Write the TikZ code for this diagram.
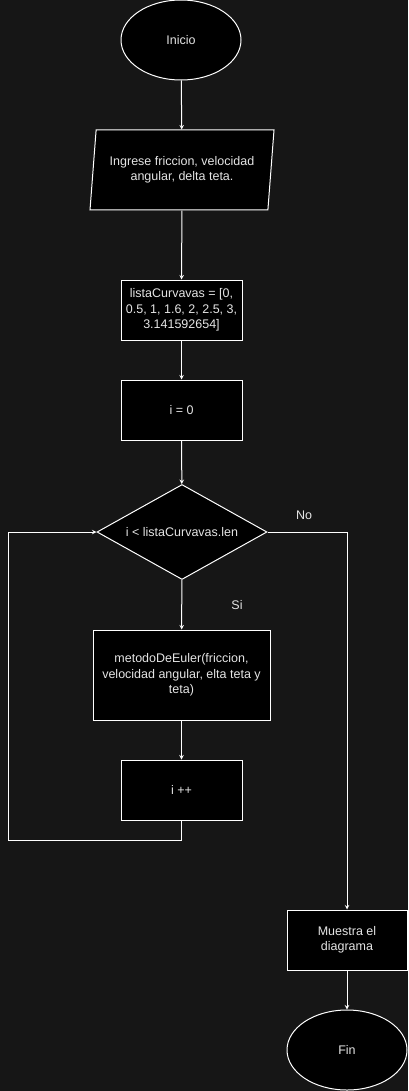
\documentclass[tikz,border=0pt]{standalone}
\usepackage{fontspec}
\setmainfont{Liberation Sans}
\usetikzlibrary{shapes.geometric}
\definecolor{canvas}{HTML}{161616}
\definecolor{inktext}{HTML}{E4E4E4}
\begin{document}
\begin{tikzpicture}[
    x=1pt, y=-1pt,
    >=stealth,
    line width=1pt,
    every node/.style={draw=white, fill=black, text=inktext, inner sep=0pt,
      align=center, font=\fontsize{12.5}{15.5}\selectfont},
    terminal/.style={ellipse, minimum width=120pt, minimum height=80pt},
    io/.style={trapezium, trapezium left angle=77.3, trapezium right angle=102.7,
      trapezium stretches body, minimum width=184pt, minimum height=80pt},
    process/.style={rectangle, minimum width=121pt, minimum height=60pt},
    decision/.style={diamond, aspect=1.8, minimum width=170pt, minimum height=95pt},
    tag/.style={draw=none, fill=none}
]
  \fill[canvas] (0,0) rectangle (408,1091);
  \useasboundingbox (0,0) rectangle (408,1091);

  % nodes
  \node[terminal] (ini) at (181,40) {Inicio};
  \node[io] (inp) at (182,170) {Ingrese friccion, velocidad\\angular, delta teta.};
  \node[process] (lst) at (181.5,310) {listaCurvavas = [0,\\0.5, 1, 1.6, 2, 2.5, 3,\\3.141592654]};
  \node[process] (i0) at (181.5,410) {i = 0};
  \node[decision] (cond) at (182,532) {i {\textless} listaCurvavas.len};
  \node[process, minimum width=177pt, minimum height=90pt] (met) at (181.5,675)
    {metodoDeEuler(friccion,\\velocidad angular, elta teta y\\teta)};
  \node[process] (inc) at (181.5,790) {i ++};
  \node[process, minimum width=120pt] (show) at (347,940) {Muestra el\\diagrama};
  \node[terminal] (fin) at (347,1050) {Fin};
  \node[tag] (no) at (304,515) {No};
  \node[tag] (si) at (237,605) {Si};
  \coordinate (back) at (8,840);

  % edges
  \draw[->, white] (ini) -- (inp);
  \draw[->, white] (inp) -- (lst);
  \draw[->, white] (lst) -- (i0);
  \draw[->, white] (i0) -- (cond);
  \draw[->, white] (cond) -- (met);
  \draw[->, white] (met) -- (inc);
  \draw[->, white] (inc.south) |- (back) |- (cond.west);
  \draw[->, white] (cond.east) -| (show.north);
  \draw[->, white] (show) -- (fin);
\end{tikzpicture}
\end{document}
